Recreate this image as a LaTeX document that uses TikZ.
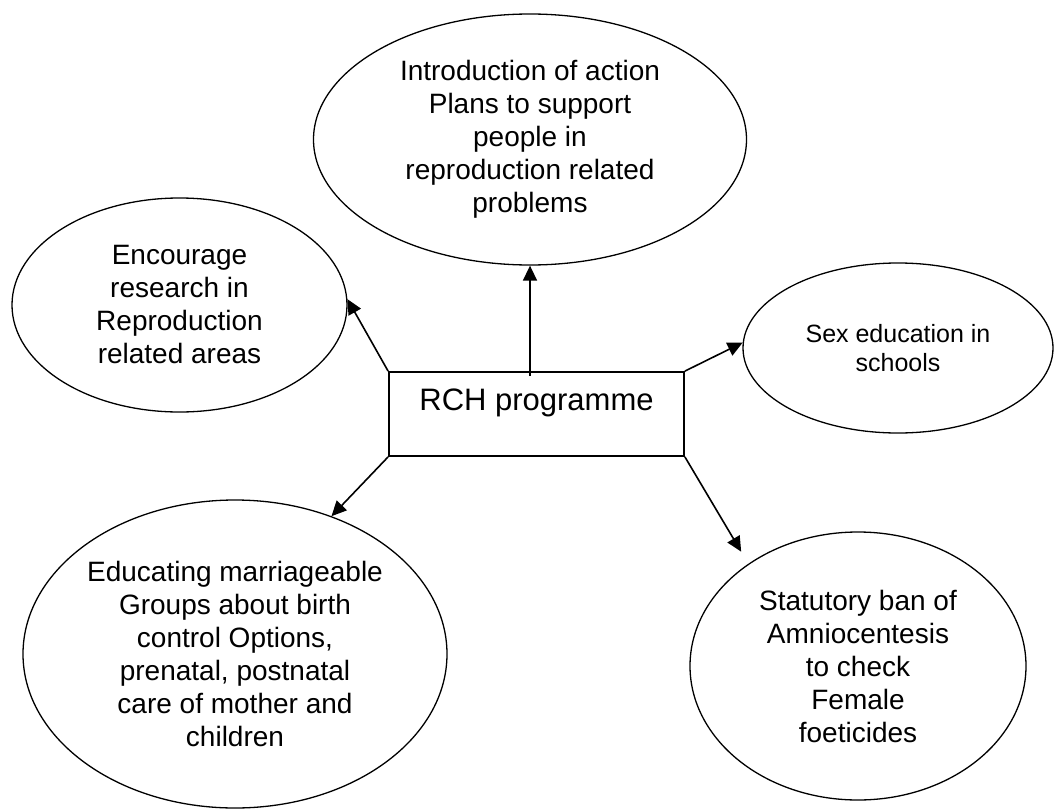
\documentclass[tikz,border=0pt]{standalone}
\usepackage{fontspec}
\setmainfont{Liberation Sans}
\usetikzlibrary{shapes.geometric, arrows.meta}

\begin{document}
\begin{tikzpicture}[x=1pt, y=-1pt,
	bubble/.style={shape=ellipse, draw, line width=1.3pt, inner sep=0pt, align=center, font=\fontsize{28}{33}\selectfont},
	arr/.style={line width=1.6pt, -{Triangle[length=15pt, width=14pt]}}]
	\useasboundingbox (0, 0) rectangle (1055, 811);
	% Centre box and the five aims:
	\node[draw, line width=1.8pt, minimum width=295pt, minimum height=84pt, text height=21pt, text depth=29pt, font=\fontsize{31}{37}\selectfont](rch) at (536.5, 414){RCH programme};
	\node[bubble, minimum width=433pt, minimum height=251pt](plans) at (530, 139.5){Introduction of action\\Plans to support\\people in\\reproduction related\\problems};
	\node[bubble, minimum width=335pt, minimum height=214pt](research) at (179.5, 305){Encourage\\research in\\Reproduction\\related areas};
	\node[bubble, minimum width=310pt, minimum height=170pt, font=\fontsize{25}{29}\selectfont](sexed) at (898, 348){Sex education in\\schools};
	\node[bubble, minimum width=424pt, minimum height=308pt](educ) at (235, 654){Educating marriageable\\Groups about birth\\control Options,\\prenatal, postnatal\\care of mother and\\children};
	\node[bubble, minimum width=336pt, minimum height=268pt](statute) at (858, 666){Statutory ban of\\Amniocentesis\\to check\\Female\\foeticides};
	% Arrows:
	\draw[arr] ([yshift=-5pt]rch.north -| plans.south) -- (plans.south);
	\draw[arr] (rch.north west) -- (research.2);
	\draw[arr] (rch.north east) -- (sexed.178);
	\draw[arr] (rch.south west) -- (educ.55);
	\draw[arr, shorten >=14pt] (rch.south east) -- (statute.137);
\end{tikzpicture}
\end{document}
